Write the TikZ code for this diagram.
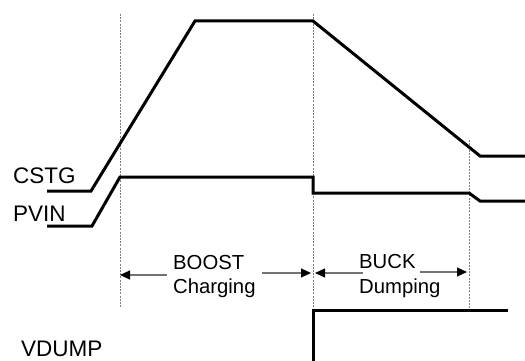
\documentclass[tikz,border=0pt]{standalone}
\usepackage{fontspec}
\setmainfont{Liberation Sans}
\usetikzlibrary{arrows.meta}
\begin{document}
\begin{tikzpicture}[x=1pt,y=-1pt,
  sig/.style={line width=3pt,line join=miter,black},
  guide/.style={line width=1pt,draw=black!50,dash pattern=on 2pt off 1.2pt},
  dim/.style={line width=1.2pt,draw=black!55,-{Triangle[length=10pt,width=9pt,color=black]}},
  lbl/.style={anchor=base west,inner sep=0pt,font=\fontsize{22.5}{26}\selectfont},
  txt/.style={anchor=base west,inner sep=0pt,font=\fontsize{20.3}{24}\selectfont}]
\useasboundingbox (0,0) rectangle (525,361);
% guide lines
\coordinate (g1t) at (120,14);  \coordinate (g1b) at (120,308);
\coordinate (g2t) at (313,14);  \coordinate (g2b) at (313,308);
\coordinate (g3t) at (469,140); \coordinate (g3b) at (469,308);
\draw[guide] (g1t) -- (g1b);
\draw[guide] (g2t) -- (g2b);
\draw[guide] (g3t) -- (g3b);
% labels
\node[lbl] (cstg) at (13,183) {CSTG};
\node[lbl] (pvin) at (13,221) {PVIN};
\node[lbl] (vdump) at (21,356) {VDUMP};
% signals
\draw[sig] (47,191) -- (91,191) -- (195,21) -- (313,21) -- (480,156) -- (525,156);
\draw[sig] (47,226) -- (92,226) -- (120,177) -- (313,177) -- (313,193) -- (469,193) -- (480,201) -- (525,201);
\draw[sig] (313,361) -- (313,310) -- (508,310);
% interval texts
\node[txt] (boost) at (173,269) {BOOST};
\node[txt] (charging) at (173,293) {Charging};
\node[txt] (buck) at (359,268) {BUCK};
\node[txt] (dumping) at (359,293) {Dumping};
% dimension arrows
\coordinate (b1s) at (167,275); \coordinate (b1e) at (120,275);
\coordinate (b2s) at (262,273); \coordinate (b2e) at (311,273);
\coordinate (k1s) at (363,273); \coordinate (k1e) at (315,273);
\coordinate (k2s) at (420,272); \coordinate (k2e) at (467,272);
\draw[dim] (b1s) -- (b1e);
\draw[dim] (b2s) -- (b2e);
\draw[dim] (k1s) -- (k1e);
\draw[dim] (k2s) -- (k2e);
\end{tikzpicture}
\end{document}
